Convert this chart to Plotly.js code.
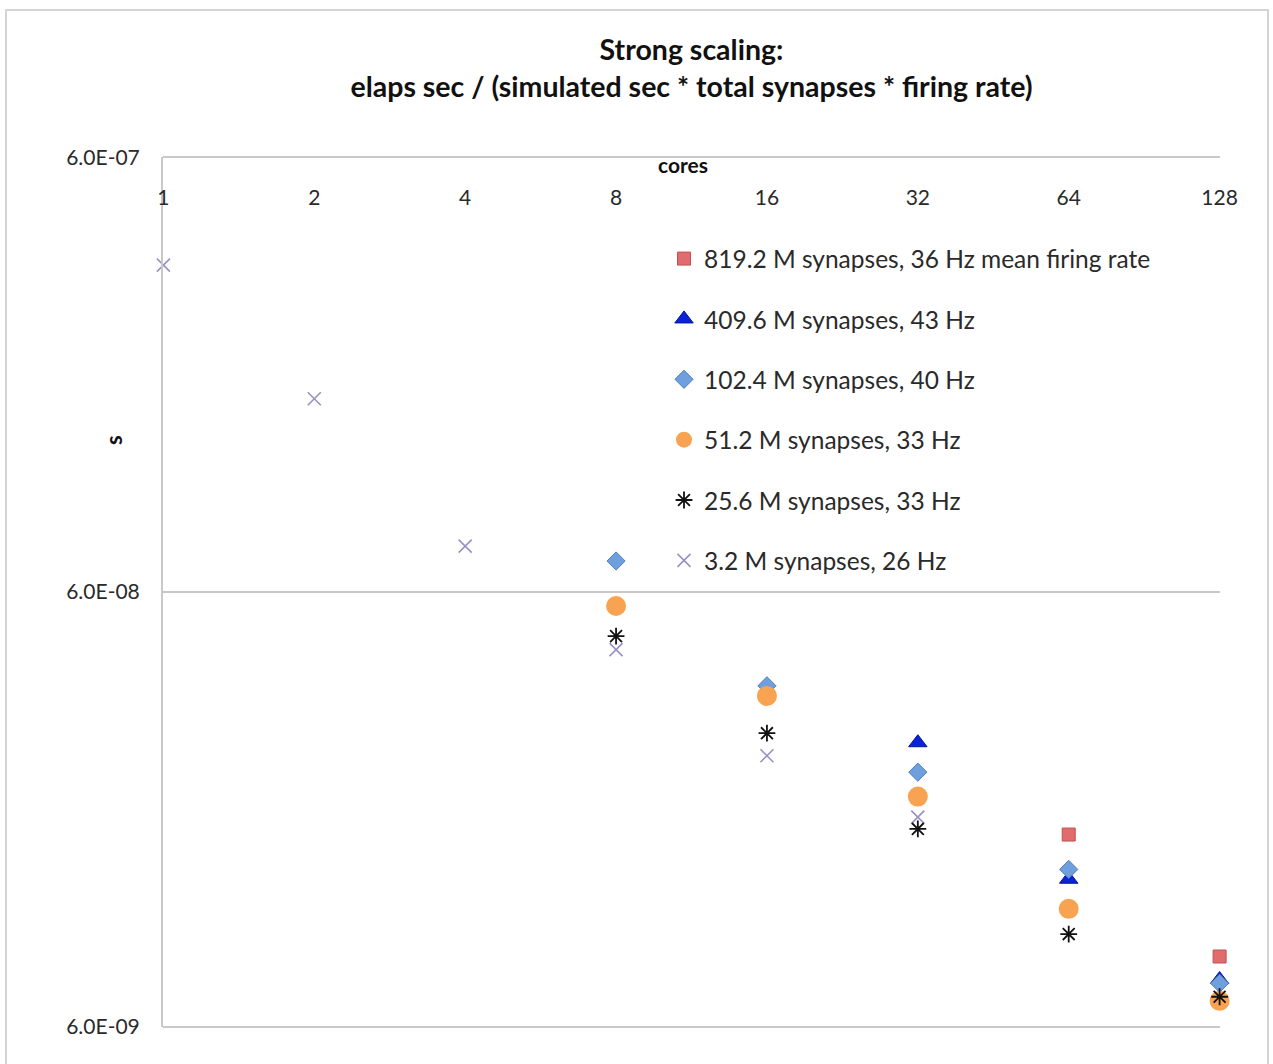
<!DOCTYPE html>
<html>
<head>
<meta charset="utf-8">
<script src="https://cdn.plot.ly/plotly-3.0.1.min.js"></script>
<style>
  html, body { margin: 0; padding: 0; background: #ffffff; }
  #frame { position: absolute; left: 5px; top: 9px; width: 1264px; height: 1060px; border: 2px solid #d4d4d4; box-sizing: border-box; }
  #chart { position: absolute; left: 0; top: 0; width: 1273px; height: 1064px; }
</style>
</head>
<body>
<div id="frame"></div>
<div id="chart"></div>
<script>
// Cores (x axis, log2 spaced)
const cores = [1, 2, 4, 8, 16, 32, 64, 128];
const coreLabels = ["1", "2", "4", "8", "16", "32", "64", "128"];

// Series names
const seriesNames = [
  "819.2 M synapses, 36 Hz mean firing rate",
  "409.6 M synapses, 43 Hz",
  "102.4 M synapses, 40 Hz",
  "51.2 M synapses, 33 Hz",
  "25.6 M synapses, 33 Hz",
  "3.2 M synapses, 26 Hz"
];

// Values (s) per series
const x819 = [64, 128];
const y819 = [1.66e-8, 8.7e-9];

const x409 = [32, 64, 128];
const y409 = [2.70e-8, 1.31e-8, 7.7e-9];

const x102 = [8, 16, 32, 64, 128];
const y102 = [7.07e-8, 3.65e-8, 2.31e-8, 1.38e-8, 7.55e-9];

const x51 = [8, 16, 32, 64, 128];
const y51 = [5.57e-8, 3.46e-8, 2.03e-8, 1.12e-8, 6.88e-9];

const x25 = [8, 16, 32, 64, 128];
const y25 = [4.75e-8, 2.84e-8, 1.71e-8, 9.8e-9, 7.03e-9];

const x3 = [1, 2, 4, 8, 16, 32];
const y3 = [3.39e-7, 1.67e-7, 7.65e-8, 4.42e-8, 2.52e-8, 1.82e-8];

// y tick labels
const yTickVals = [6e-9, 6e-8, 6e-7];
const yTickText = ["6.0E-09", "6.0E-08", "6.0E-07"];

const FONT = "Lato, 'Open Sans', sans-serif";
const EPS = 0.0008;

function tr(x, y, name, rank, marker) {
  return {
    type: "scatter", mode: "markers", x: x, y: y, name: name,
    legendgroup: "g" + rank, legendrank: rank, marker: marker, cliponaxis: false,
    hoverinfo: "x+y+name"
  };
}

const data = [
  tr(x819, y819, seriesNames[0], 1, {symbol: "square", size: 13, color: "#e06c6e", line: {color: "#c25052", width: 1}}),
  tr(x409, y409, seriesNames[1], 2, {symbol: "triangle-up", size: 16, color: "#0a22d8", line: {color: "#06169a", width: 1}}),
  tr(x102, y102, seriesNames[2], 3, {symbol: "diamond", size: 14, color: "#6f9fdc", line: {color: "#4f7fbf", width: 1}}),
  tr(x51, y51, seriesNames[3], 4, {symbol: "circle", size: 20, color: "#f7a352", line: {color: "#f7a352", width: 0}}),
  tr(x3, y3, seriesNames[5], 6, {symbol: "x-thin-open", size: 13, color: "#9b90c4", line: {color: "#9b90c4", width: 1.6}}),
  tr(x25, y25, seriesNames[4], 5, {symbol: "asterisk-open", size: 14, color: "#111111", line: {color: "#111111", width: 1.8}})
];

const layout = {
  width: 1273, height: 1064,
  paper_bgcolor: "rgba(0,0,0,0)", plot_bgcolor: "#ffffff",
  margin: {l: 163, r: 53, t: 157, b: 37},
  font: {family: FONT, color: "#222222"},
  title: {
    text: "<b>Strong scaling:<br>elaps sec / (simulated sec * total synapses * firing rate)</b>",
    font: {family: FONT, size: 28.5, color: "#111111"},
    x: 0.5, xref: "paper", y: 0.9436, yref: "container", yanchor: "top"
  },
  showlegend: true,
  legend: {
    x: 0.474, y: 0.909, xanchor: "left", yanchor: "top",
    font: {family: FONT, size: 24.5, color: "#2a2a2a"},
    bgcolor: "rgba(0,0,0,0)", traceorder: "grouped", tracegroupgap: 25.5,
    itemwidth: 30
  },
  xaxis: {
    type: "log", side: "bottom", anchor: "free", position: 1,
    range: [Math.log10(1) - EPS, Math.log10(128) + EPS],
    tickvals: cores, ticktext: coreLabels,
    ticks: "", ticklabelstandoff: 22,
    tickfont: {family: FONT, size: 21, color: "#2a2a2a"},
    showline: true, linecolor: "#c8c8c8", linewidth: 2,
    showgrid: false, zeroline: false
  },
  yaxis: {
    type: "log",
    range: [Math.log10(6e-9) - EPS, Math.log10(6e-7) + EPS],
    tickvals: yTickVals, ticktext: yTickText,
    ticks: "", ticklabelstandoff: 17,
    tickfont: {family: FONT, size: 21, color: "#2a2a2a"},
    showline: true, linecolor: "#c8c8c8", linewidth: 2,
    showgrid: true, gridcolor: "#c8c8c8", gridwidth: 2, zeroline: false
  },
  shapes: [
    // bottom frame edge of the plot area (closing line at the lowest grid value)
    {type: "line", xref: "paper", yref: "paper", x0: 0, x1: 1, y0: 0, y1: 0,
     line: {color: "#c8c8c8", width: 2}, layer: "below"}
  ],
  annotations: [
    {text: "<b>cores</b>", xref: "paper", yref: "paper", x: 0.492, y: 0.991,
     xanchor: "center", yanchor: "middle", showarrow: false,
     font: {family: FONT, size: 21, color: "#111111"}},
    {text: "<b>s</b>", xref: "paper", yref: "paper", x: -0.047, y: 0.675,
     xanchor: "center", yanchor: "middle", textangle: -90, showarrow: false,
     font: {family: FONT, size: 22, color: "#111111"}}
  ]
};

Plotly.newPlot("chart", data, layout, {displayModeBar: false, responsive: false});
</script>
</body>
</html>
